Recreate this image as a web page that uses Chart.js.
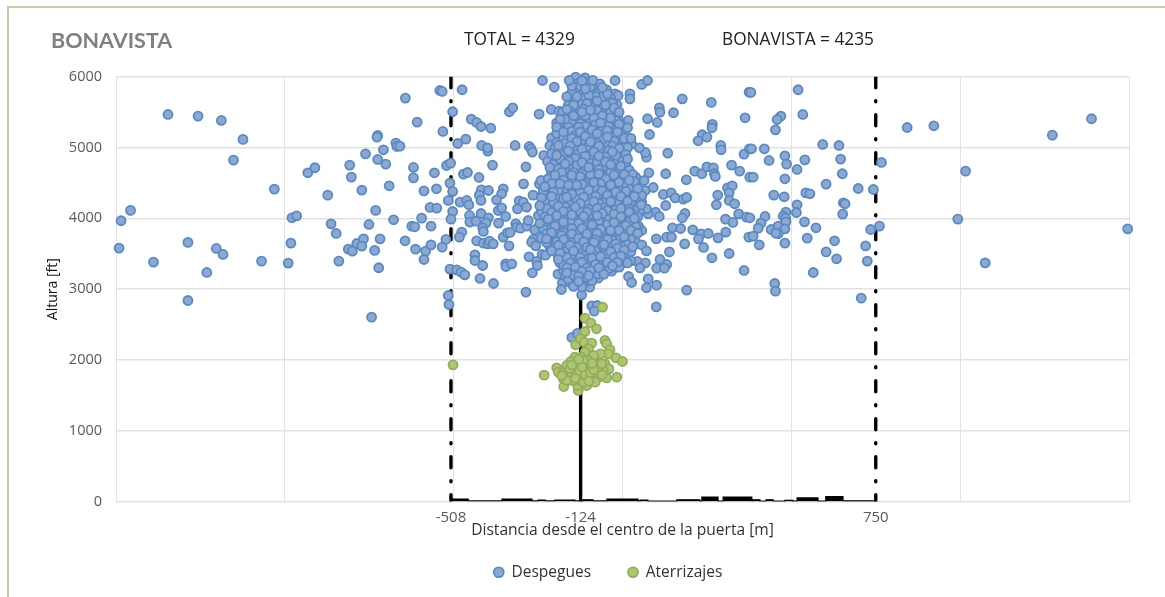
<!DOCTYPE html>
<html>
<head>
<meta charset="utf-8">
<title>BONAVISTA</title>
<script src="https://cdn.jsdelivr.net/npm/chart.js@4"></script>
<style>
    html, body { margin: 0; padding: 0; background: #fff; overflow: hidden; }
    #wrap { position: relative; width: 1165px; height: 597px; }
    #marco { position: absolute; left: 7px; top: 6px; right: 0; bottom: 0; border-left: 2px solid #cfc7a3; border-top: 2px solid #cfc7a3; }
    #grafico { position: absolute; left: 0; top: 0; }
</style>
</head>
<body>
<div id="wrap">
    <div id="marco"></div>
    <canvas id="grafico"></canvas>
</div>
<script>
const titulo = "BONAVISTA";
const rotulosArriba = ["TOTAL = 4329", "BONAVISTA = 4235"];

const rejillaX = [-1500, -1000, -500, 0, 500, 1000, 1500];
const ticksX = [-508, -124, 750];
const ticksY = [0, 1000, 2000, 3000, 4000, 5000, 6000];

// despegues lejos del centro [m, ft]
const despeguesLaterales = [
    [-1485,3966],[-1457,4112],[-1491,3580],[-1346,5468],[-1257,5445],[-1188,5383],[-1124,5115],[-1152,4823],
    [-1031,4413],[-1389,3382],[-1287,3660],[-1203,3575],[-1183,3490],[-1231,3236],[-1069,3396],[-990,3368],
    [-982,3650],[-979,4008],[-965,4036],[-932,4644],[-911,4715],[-873,4328],[-863,3923],[-848,3787],
    [-808,4752],[-803,4583],[-772,4399],[-761,4912],[-731,4112],[-751,3914],[-787,3645],[-767,3711],
    [-772,3608],[-812,3565],[-800,3537],[-840,3396],[-734,3547],[-718,3711],[-722,3302],[-725,5171],
    [-727,5148],[-671,5063],[-668,5016],[-708,4969],[-725,4832],[-701,4766],[-691,4460],[-678,3980],
    [-1287,2840],[-743,2604],
    [-643,5699],[-541,5807],[-534,5793],[-475,5817],[-503,5506],[-608,5360],[-532,5228],[-448,5402],
    [-432,5355],[-419,5298],[-390,5275],[-464,5119],[-488,5058],[-417,5030],[-399,4950],[-400,4997],
    [-318,5030],[-335,5506],[-325,5562],[-247,5473],[-237,5948],[-202,5854],[-211,5539],[-188,5515],
    [-276,5016],[-271,4983],[-267,4936],[-659,5020],[-619,4719],[-619,4573],[-557,4644],[-521,4747],
    [-509,4780],[-385,4752],[-286,4728],[-471,4625],[-459,4648],[-425,4578],[-511,4498],[-503,4380],
    [-588,4389],[-551,4418],[-293,4488],[-246,4488],[-241,4535],[-418,4403],[-397,4394],[-424,4328],
    [-353,4418],[-358,4347],[-265,4328],[-516,4253],[-481,4229],[-461,4253],[-455,4192],[-419,4253],
    [-373,4262],[-306,4248],[-294,4229],[-311,4135],[-284,4159],[-570,4154],[-550,4144],[-503,4097],
    [-368,4111],[-358,4149],[-595,4003],[-508,3989],[-453,4041],[-452,3947],[-434,3961],[-419,4069],
    [-397,4008],[-404,3937],[-414,3867],[-412,3815],[-346,4027],[-367,3933],[-624,3890],[-615,3881],
    [-567,3890],[-316,3923],[-313,3876],[-302,3862],[-283,3890],[-279,3970],[-249,4041],[-252,3862],
    [-260,3838],[-644,3683],[-613,3565],[-583,3537],[-567,3626],[-588,3419],[-523,3702],[-534,3593],
    [-476,3805],[-483,3735],[-432,3683],[-412,3650],[-399,3640],[-394,3678],[-383,3640],[-353,3735],
    [-341,3796],[-333,3801],[-336,3612],[-264,3702],[-269,3664],[-257,3612],[-437,3485],[-437,3405],
    [-414,3334],[-346,3358],[-345,3320],[-328,3358],[-277,3457],[-238,3490],[-228,3480],[-254,3391],
    [-252,3334],[-267,3231],[-511,3283],[-491,3273],[-478,3240],[-467,3202],[-422,3151],[-382,3080],
    [-286,2958],[-191,3212],[-178,3085],[-181,2995],[-516,2910],[-514,2783],[-121,2920],[-97,3028],
    [-72,3155],[-91,2764],[-75,2769],[-84,2689],[-150,2317],[-134,2374],
    [-22,5948],[57,5892],[74,5948],[22,5760],[22,5689],[177,5689],[263,5638],[109,5562],
    [111,5501],[103,5355],[74,5407],[151,5492],[17,5383],[80,5185],[363,5421],[266,5327],
    [265,5280],[236,5181],[224,5096],[250,5148],[375,5784],[291,5030],[292,4969],[134,4922],
    [71,4865],[68,4931],[50,4997],[360,4907],[376,4983],[214,4667],[235,4630],[250,4728],
    [269,4714],[272,4630],[275,4592],[323,4752],[347,4667],[128,4630],[189,4545],[78,4644],
    [64,4535],[39,4582],[377,4582],[91,4436],[67,4394],[40,4451],[311,4432],[325,4460],
    [316,4361],[282,4328],[316,4253],[278,4192],[332,4206],[121,4338],[144,4361],[156,4290],
    [180,4272],[190,4295],[57,4229],[128,4182],[98,4088],[109,4027],[76,4064],[185,4069],
    [177,4008],[46,4060],[305,3989],[327,3942],[344,4064],[367,4017],[148,3867],[172,3857],
    [208,3838],[57,3829],[47,3890],[233,3782],[254,3787],[225,3711],[283,3725],[306,3805],
    [100,3711],[131,3735],[145,3735],[184,3640],[40,3659],[57,3626],[71,3541],[139,3527],
    [240,3589],[265,3443],[316,3504],[111,3419],[44,3391],[68,3372],[131,3348],[101,3297],
    [124,3297],[52,3301],[360,3264],[18,3179],[27,3094],[76,3146],[71,3019],[101,3056],
    [190,2986],[100,2750],[374,3735],
    [520,5817],[469,5444],[458,5397],[453,5251],[534,5468],[380,5779],[593,5044],[641,5030],
    [420,4983],[382,4983],[481,4884],[434,4818],[540,4827],[486,4766],[646,4837],[517,4691],
    [651,4630],[387,4582],[481,4559],[603,4484],[767,4790],[843,5284],[922,5308],[1273,5176],
    [1389,5407],[1016,4667],[993,3989],[1074,3372],[1496,3852],[698,4422],[743,4408],[448,4328],
    [479,4305],[543,4361],[555,4347],[517,4192],[654,4220],[659,4206],[515,4083],[484,4088],
    [652,4060],[476,4031],[483,4003],[422,4027],[377,4008],[410,3932],[402,3862],[440,3843],
    [461,3890],[484,3951],[481,3852],[461,3782],[454,3791],[387,3749],[405,3626],[481,3650],
    [539,3951],[573,3867],[547,3721],[628,3683],[603,3527],[634,3429],[565,3235],[720,3612],
    [725,3396],[735,3843],[761,3890],[451,3080],[453,2972],[707,2873]
];

// nube densa alrededor de -124 m
const despeguesCentro = [
    [-139,5995],[-111,5986],[-131,5911],[-109,5925],[-67,5901],[-136,5807],[-118,5760],[-91,5807],
    [-47,5816],[-22,5760],[-13,5736],[-151,5656],[-134,5666],[-106,5675],[-82,5666],[-62,5642],
    [-42,5656],[-17,5609],[-136,5534],[-104,5501],[-70,5444],[-52,5524],[-15,5440],[-161,5430],
    [-141,5407],[-82,5562],[-195,5350],[-165,5350],[-141,5313],[-99,5346],[-52,5374],[-27,5336],
    [-3,5313],[-175,5289],[-111,5242],[-82,5218],[-52,5171],[7,5228],[-22,5171],[-210,5138],
    [-183,5185],[-156,5101],[-131,5124],[-106,5110],[-85,5086],[-55,5030],[2,5053],[27,5053],
    [-215,5030],[-165,5006],[-131,4997],[-101,4959],[-77,4969],[-22,4969],[-3,4936],[-233,4889],
    [-203,4842],[-222,4804],[-187,4780],[-148,4794],[-121,4856],[-82,4865],[-62,4794],[-17,4827],
    [-42,4733],[4,4667],[-165,4733],[-126,4700],[-101,4677],[-136,4606],[-111,4583],[-80,4630],
    [-54,4653],[-34,4592],[-185,4592],[-192,4535],[-165,4512],[-148,4465],[-17,4526],[12,4526],
    [-215,4427],[-180,4441],[-116,4418],[-82,4479],[-57,4441],[-5,4451],[32,4394],[-220,4338],
    [-175,4347],[-136,4323],[-106,4323],[-87,4347],[-59,4290],[-22,4253],[14,4371],[57,4323],
    [-207,4159],[-165,4243],[-141,4206],[-121,4159],[-85,4159],[-52,4206],[12,4144],[71,4135],
    [-180,4064],[-156,4041],[-126,3994],[-101,4041],[-55,4088],[-17,4041],[-8,4159],[-220,3923],
    [-185,3923],[-156,3923],[-91,3876],[-47,3947],[4,3937],[32,3970],[-213,3900],[-205,3758],
    [-175,3735],[-146,3782],[-116,3829],[-67,3782],[-22,3735],[7,3688],[-111,3688],[-138,3650],
    [-82,3650],[-42,3664],[-183,3593],[-197,3532],[-161,3499],[-136,3523],[-110,3556],[-87,3513],
    [-49,3523],[-3,3523],[-156,3405],[-141,3391],[-121,3429],[-98,3391],[-72,3452],[-27,3405],
    [0,3367],[-161,3334],[-136,3287],[-96,3216],[-69,3264],[-47,3334],[-32,3254],[-151,3193],
    [-139,3122],[-121,3193],[-136,3066],[-111,3099],[-96,3287],
    [-125,5870],[-95,5860],[-150,5780],[-70,5770],[-120,5700],[-60,5720],[-35,5700],[-160,5600],
    [-120,5610],[-92,5590],[-65,5590],[-30,5570],[-178,5500],[-128,5470],[-85,5480],[-40,5470],
    [-150,5380],[-118,5400],[-75,5390],[-12,5400],[-185,5260],[-135,5250],[-95,5290],[-60,5300],
    [-30,5260],[-160,5180],[-120,5190],[-75,5150],[-38,5110],[-10,5120],[-195,5070],[-145,5050],
    [-90,5020],[-45,5060],[-180,4950],[-120,4930],[-60,4930],[-35,4900],[-5,4860],[-205,4760],
    [-165,4860],[-105,4820],[-40,4810],[-150,4700],[-80,4730],[-20,4720],[10,4760],[-210,4650],
    [-170,4650],[-118,4640],[-60,4600],[-10,4640],[-200,4470],[-155,4570],[-125,4530],[-90,4550],
    [-45,4510],[15,4590],[-235,4380],[-165,4420],[-130,4420],[-95,4440],[-35,4400],[25,4450],
    [-195,4310],[-150,4280],[-120,4250],[-75,4250],[-35,4300],[5,4280],[40,4260],[-225,4240],
    [-185,4210],[-95,4190],[-68,4170],[-30,4180],[30,4190],[-240,4100],[-190,4130],[-140,4110],
    [-115,4080],[-75,4090],[-35,4110],[10,4070],[50,4100],[-205,4000],[-165,3990],[-135,4040],
    [-90,3960],[-60,4020],[-28,3990],[25,4020],[-235,3860],[-190,3850],[-130,3880],[-100,3930],
    [-65,3890],[-30,3870],[15,3860],[-225,3780],[-160,3820],[-120,3760],[-85,3760],[-45,3810],
    [-5,3790],[30,3770],[-210,3650],[-165,3670],[-125,3700],[-90,3700],[-55,3730],[-15,3680],
    [22,3650],[-190,3470],[-150,3580],[-118,3610],[-62,3600],[-25,3600],[12,3590],[-215,3600],
    [-170,3420],[-125,3490],[-100,3520],[-65,3520],[-30,3480],[15,3480],[-185,3370],[-140,3440],
    [-105,3460],[-80,3390],[-50,3420],[-10,3440],[25,3400],[-175,3260],[-150,3280],[-115,3350],
    [-85,3320],[-55,3290],[-20,3310],[-170,3190],[-128,3220],[-110,3260],[-85,3190],[-155,3090],
    [-120,3030],[-100,3130]
];

// mas puntos que rellenan la nube
const despeguesRelleno = [
    [-150,5870],[-80,5720],[-100,5740],[-135,5720],[-45,5760],[-30,5630],[-145,5600],[-105,5620],
    [-75,5520],[-115,5545],[-155,5510],[-35,5510],[-170,5400],[-110,5450],[-60,5450],[-85,5420],
    [-20,5385],[-125,5340],[-80,5320],[-40,5300],[-15,5270],[-160,5290],[-110,5300],[-150,5230],
    [-100,5210],[-65,5240],[-35,5210],[-5,5180],[-195,5200],[-175,5140],[-140,5165],[-90,5150],
    [-60,5110],[-25,5090],[5,5130],[-170,5060],[-120,5060],[-75,5060],[-30,5020],[15,5000],
    [-200,4990],[-145,4980],[-105,5000],[-65,4990],[-40,4960],[-10,4990],[-210,4910],[-170,4910],
    [-135,4900],[-95,4900],[-50,4870],[-20,4890],[10,4900],[-185,4840],[-140,4850],[-95,4780],
    [-75,4800],[-25,4770],[-190,4700],[-135,4750],[-110,4740],[-60,4720],[-5,4740],[20,4680],
    [-180,4650],[-145,4650],[-95,4620],[-35,4660],[-15,4590],[30,4620],[-220,4560],[-175,4540],
    [-125,4590],[-70,4560],[-50,4560],[-5,4570],[35,4520],[-210,4490],[-150,4510],[-105,4500],
    [-65,4490],[-25,4470],[5,4490],[-190,4400],[-150,4400],[-110,4460],[-75,4410],[-45,4380],
    [-10,4400],[45,4420],[-205,4370],[-125,4370],[-70,4340],[-15,4330],[20,4330],[-240,4290],
    [-175,4280],[-135,4270],[-95,4290],[-48,4250],[-5,4230],[25,4240],[-205,4230],[-155,4190],
    [-105,4220],[-70,4210],[-15,4200],[10,4190],[55,4190],[-225,4140],[-170,4160],[-130,4160],
    [-100,4130],[-55,4150],[-20,4120],[35,4110],[-210,4080],[-160,4090],[-125,4100],[-90,4060],
    [-45,4050],[-5,4090],[30,4060],[-230,4020],[-185,4020],[-145,3990],[-110,3990],[-75,4000],
    [-40,4010],[-10,3990],[45,4020],[-195,3960],[-150,3960],[-115,3950],[-70,3950],[-15,3940],
    [20,3950],[-225,3960],[-170,3880],[-140,3860],[-105,3880],[-78,3850],[-50,3880],[-10,3870],
    [40,3880],[-200,3820],[-175,3800],[-135,3790],[-95,3820],[-60,3830],[-25,3790],[10,3800],
    [-240,3720],[-190,3730],[-155,3740],[-105,3730],[-70,3720],[-35,3760],[-5,3720],[25,3710],
    [-195,3670],[-145,3680],[-100,3650],[-65,3670],[-30,3690],[10,3650],[-225,3660],[-175,3590],
    [-135,3590],[-95,3600],[-75,3580],[-40,3600],[-5,3600],[-200,3590],[-165,3540],[-115,3530],
    [-80,3540],[-50,3560],[-15,3540],[25,3530],[-175,3470],[-145,3480],[-110,3490],[-85,3480],
    [-50,3480],[-15,3490],[-165,3450],[-130,3410],[-105,3420],[-65,3400],[-35,3360],[5,3400],
    [-175,3340],[-130,3350],[-100,3340],[-70,3340],[-40,3290],[-10,3310],[-160,3270],[-120,3290],
    [-85,3270],[-60,3240],[-150,3240],[-105,3220],[-75,3210],[-160,3140],[-125,3140],[-90,3120],
    [-110,3170],[-140,3170],
    [-158,5950],[-120,5945],[-88,5950],[-60,5850],[-110,5830],[-165,5720],[-75,5660],[-50,5600],
    [-165,5540],[-95,5530],[-25,5560],[-10,5500],[-145,5450],[-120,5500],[-35,5420],[-185,5400],
    [-65,5350],[-10,5330],[-130,5290],[-195,5290],[-90,5250],[-45,5240],[15,5280],[-125,5220],
    [-175,5220],[-75,5200],[-15,5220],[-110,5160],[-150,5130],[-45,5150],[25,5130],[-135,5085],
    [-95,5080],[-70,5020],[-155,5020],[-190,5030],[-120,4980],[-85,4940],[-30,4940],[-160,4950],
    [-195,4890],[-110,4880],[-70,4880],[15,4840],[-160,4810],[-120,4790],[-50,4800],[-215,4720],
    [-170,4770],[-100,4720],[-70,4690],[-35,4760],[-200,4610],[-150,4610],[-70,4630],[-25,4610],
    [5,4620],[-160,4470],[-120,4480],[-85,4510],[-35,4470],[-10,4510],[20,4540],[-230,4450],
    [-185,4490],[-135,4470],[-100,4400],[-60,4390],[-20,4370],[10,4380],[-150,4340],[-115,4300],
    [-80,4310],[-45,4330],[-5,4310],[35,4310],[-210,4310],[-165,4300],[-125,4210],[-85,4240],
    [-35,4240],[15,4240],[-190,4170],[-140,4160],[-75,4140],[-45,4110],[-5,4140],[20,4130],
    [-245,4180],[-175,4100],[-105,4090],[-60,4070],[-25,4060],[20,4090],[-195,4040],[-150,4050],
    [-115,4030],[-75,4040],[-5,4020],[35,4000],[-220,3990],[-175,3950],[-130,3930],[-90,3910],
    [-45,3910],[-25,3940],[10,3900],[-245,3930],[-200,3890],[-150,3860],[-120,3860],[-65,3850],
    [-35,3830],[25,3830],[-210,3800],[-150,3780],[-105,3780],[-75,3790],[-10,3830],[45,3790],
    [-180,3760],[-130,3720],[-80,3700],[-45,3700],[5,3740],[-225,3710],[-175,3700],[-115,3670],
    [-85,3660],[-20,3640],[30,3600],[-190,3620],[-155,3620],[-105,3590],[-55,3630],[-15,3580],
    [-210,3540],[-145,3540],[-95,3560],[-35,3530],[5,3550],[-185,3510],[-125,3450],[-90,3440],
    [-65,3460],[-25,3450],[-5,3470],[-190,3420],[-155,3370],[-120,3380],[-80,3350],[-45,3380],
    [-15,3380],[15,3370],[-165,3300],[-140,3310],[-105,3300],[-70,3300],[-30,3330],[-145,3200],
    [-120,3250],[-95,3260],[-55,3210],[-165,3230],[-130,3180],[-100,3190],[-145,3040],[-130,3110]
];

const aterrizajes = [
    [-59,2746],[-111,2590],[-94,2524],[-77,2440],[-111,2402],[-232,1785],[-139,2214],[-124,2298],
    [-113,2251],[-91,2237],[-101,2157],[-52,2275],[-47,2228],[-37,2143],[-42,2086],[-65,2086],
    [-19,2030],[0,1978],[-86,2063],[-111,2110],[-141,2039],[-153,1978],[-121,2039],[-101,1992],
    [-72,1945],[-52,1945],[-40,1874],[-57,1851],[-195,1889],[-190,1827],[-175,1827],[-165,1922],
    [-141,1922],[-174,1625],[-175,1733],[-156,1710],[-146,1851],[-131,1874],[-116,1922],[-96,1874],
    [-81,1898],[-131,1568],[-133,1639],[-106,1639],[-121,1780],[-136,1780],[-111,1757],[-91,1710],
    [-70,1757],[-47,1747],[-17,1757],[-151,1780],[-146,1710],[-126,1710],[-106,1827],[-86,1780],
    [-72,1827],[-62,1945],[-116,1992],[-131,1969],[-121,1851],[-116,1686],[-96,1757],[-81,1686],
    [-165,1710],[-156,1874],[-126,1794],[-502,1931],[-128,1830],[-110,1790],[-95,1820],[-140,1740],
    [-100,1700],[-85,1860],[-60,1790],[-150,1930],[-120,1900],[-90,1950],[-180,1780],[-130,2010]
];

// perfil negro al pie del grafico
const perfilX = [-508,-457,-357,-268,-250,-229,-200,-141,-117,-87,-46,46,52,75,161,229,235,283,298,383,386,407,425,446,481,505,517,579,602,653,750];
const perfilY = [35,8,35,8,20,8,20,8,25,8,35,8,20,6,25,6,62,6,62,8,25,6,25,6,15,6,50,6,70,10,0];

const gris = "#595959";
const colorRejilla = "#e2e2e2";
const fuente = "'Open Sans', sans-serif";

function aPuntos(pares) {
    return pares.map(p => ({ x: p[0], y: p[1] }));
}

function lineaVertical(x, dash) {
    return {
        label: "linea",
        data: [{ x: x, y: 6000 }, { x: x, y: 0 }],
        showLine: true,
        borderColor: "#000",
        borderWidth: 3.4,
        borderDash: dash,
        borderCapStyle: dash.length ? "round" : "butt",
        pointRadius: 0,
        order: 5,
    };
}

const marcasX = [...rejillaX, ...ticksX].sort((a, b) => a - b);

const rotulos = {
    id: "rotulos",
    afterLayout(chart) {
        // la leyenda y el titulo van algo desplazados como en el original
        chart.legend.left += 21;
        chart.legend.right += 21;
        chart.legend.top -= 12;
        chart.legend.bottom -= 12;
        chart.titleBlock.left += 6;
        chart.titleBlock.right += 6;
    },
    afterDraw(chart) {
        const ctx = chart.ctx;
        ctx.save();
        ctx.font = "17.3px " + fuente;
        ctx.fillStyle = "#222";
        ctx.textBaseline = "middle";
        ctx.fillText(rotulosArriba[0], 464, 40);
        ctx.fillText(rotulosArriba[1], 722, 40);
        ctx.restore();
    },
};

new Chart(document.getElementById("grafico"), {
    type: "scatter",
    data: {
        datasets: [
            {
                label: "Despegues",
                data: aPuntos(despeguesLaterales.concat(despeguesCentro, despeguesRelleno)),
                backgroundColor: "#8ba8d2",
                borderColor: "#5a89c2",
                borderWidth: 1.8,
                pointRadius: 4.5,
                clip: false,
                order: 2,
            },
            {
                label: "Aterrizajes",
                data: aPuntos(aterrizajes),
                backgroundColor: "#aec66f",
                borderColor: "#93ac5e",
                borderWidth: 1.8,
                pointRadius: 4.5,
                clip: false,
                order: 1,
            },
            lineaVertical(ticksX[0], [11, 13, 1, 13]),
            lineaVertical(ticksX[1], []),
            lineaVertical(ticksX[2], [11, 13, 1, 13]),
            {
                label: "perfil",
                data: perfilX.map((x, i) => ({ x: x, y: perfilY[i] })),
                showLine: true,
                stepped: "before",
                fill: "origin",
                backgroundColor: "#000",
                borderColor: "#000",
                borderWidth: 1.2,
                pointRadius: 0,
                order: 4,
            },
        ],
    },
    options: {
        responsive: true,
        maintainAspectRatio: false,
        animation: false,
        layout: { padding: { left: 45, right: 36, top: 28, bottom: -5 } },
        scales: {
            x: {
                type: "linear",
                min: -1500,
                max: 1500,
                afterBuildTicks: scale => { scale.ticks = marcasX.map(v => ({ value: v })); },
                afterFit: scale => { scale.height = 38; },
                grid: {
                    color: ctx => (ctx.tick && ticksX.includes(ctx.tick.value)) ? "rgba(0,0,0,0)" : colorRejilla,
                    drawTicks: false,
                },
                border: { color: colorRejilla },
                ticks: {
                    autoSkip: false,
                    maxRotation: 0,
                    padding: 7,
                    color: gris,
                    font: { family: fuente, size: 15 },
                    callback: v => ticksX.includes(v) ? String(v) : "",
                },
                title: {
                    display: true,
                    text: "Distancia desde el centro de la puerta [m]",
                    color: "#333",
                    padding: 0,
                    font: { family: fuente, size: 15.6 },
                },
            },
            y: {
                min: 0,
                max: 6000,
                afterBuildTicks: scale => { scale.ticks = ticksY.map(v => ({ value: v })); },
                afterFit: scale => { scale.width = 71; },
                grid: { color: colorRejilla, drawTicks: false, lineWidth: 1.5 },
                border: { color: colorRejilla },
                ticks: {
                    padding: 14,
                    color: gris,
                    font: { family: fuente, size: 14.5 },
                    callback: v => String(v),
                },
                title: {
                    display: true,
                    text: "Altura [ft]",
                    color: "#111",
                    padding: 0,
                    font: { family: fuente, size: 14 },
                },
            },
        },
        plugins: {
            title: {
                display: true,
                text: titulo,
                align: "start",
                color: "#7f7f7f",
                padding: { top: 0, bottom: 23 },
                font: { family: "Lato, sans-serif", size: 21.5, weight: "bold" },
            },
            legend: {
                position: "bottom",
                labels: {
                    usePointStyle: true,
                    pointStyleWidth: 10,
                    boxHeight: 7,
                    padding: 37,
                    color: "#333",
                    font: { family: fuente, size: 15.5 },
                    filter: item => item.text === "Despegues" || item.text === "Aterrizajes",
                    sort: (a, b) => a.datasetIndex - b.datasetIndex,
                },
            },
            tooltip: { enabled: false },
        },
    },
    plugins: [rotulos],
});
</script>
</body>
</html>
